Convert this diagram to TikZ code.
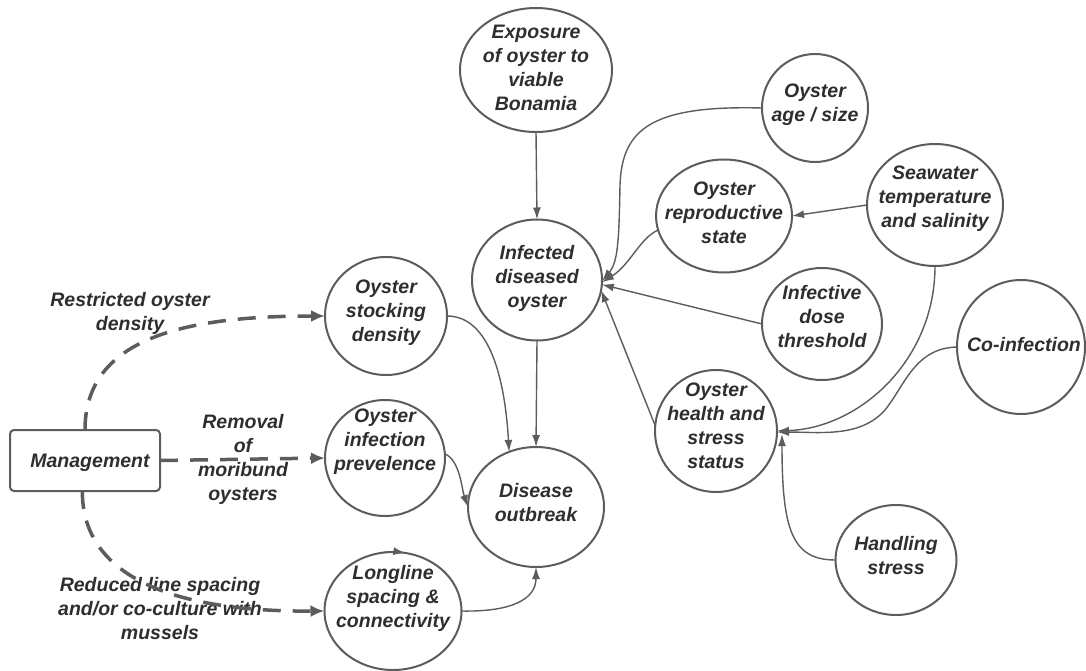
\documentclass[tikz,border=0pt]{standalone}
\usepackage{fontspec}
\setmainfont{Liberation Sans}
\usetikzlibrary{arrows.meta,shapes.geometric}
\definecolor{edgec}{HTML}{5C5C5C}
\definecolor{txtc}{HTML}{2E2E2E}
\begin{document}
\begin{tikzpicture}[x=1pt,y=-1pt,
  bub/.style={draw=edgec, line width=2pt, ellipse, inner sep=0pt, outer sep=0pt},
  lbl/.style={text=txtc, font=\fontsize{19.5}{24}\selectfont\bfseries\itshape, align=center, inner sep=0pt},
  conn/.style={draw=edgec, line width=1.4pt, -{Latex[length=12pt,width=8pt]}},
  mgarrow/.style={draw=edgec, line width=3.5pt, dash pattern=on 18pt off 12pt, -{Latex[length=14pt,width=12pt]}}]
\useasboundingbox (0,0) rectangle (1086,671);

% bubbles
\node[bub, minimum width=152pt, minimum height=124pt] (exp) at (536,70) {};
\node[bub, minimum width=130pt, minimum height=121pt] (inf) at (537,280) {};
\node[bub, minimum width=136pt, minimum height=120pt] (dis) at (536,507) {};
\node[bub, minimum width=122pt, minimum height=118pt] (stk) at (386,316) {};
\node[bub, minimum width=120pt, minimum height=116pt] (prev) at (385,458) {};
\node[bub, minimum width=137pt, minimum height=118pt] (ll) at (393,611) {};
\node[bub, minimum width=106pt, minimum height=108pt] (age) at (815,108) {};
\node[bub, minimum width=136pt, minimum height=113pt] (rep) at (724,216) {};
\node[bub, minimum width=136pt, minimum height=122pt] (sea) at (935,205) {};
\node[bub, minimum width=120pt, minimum height=112pt] (dose) at (822,324) {};
\node[bub, minimum width=128pt, minimum height=134pt] (coinf) at (1021,347) {};
\node[bub, minimum width=122pt, minimum height=122pt] (health) at (716,431) {};
\node[bub, minimum width=121pt, minimum height=110pt] (hand) at (896,560) {};
\node[draw=edgec, line width=2pt, rounded corners=4pt, rectangle, minimum width=150pt, minimum height=61pt, inner sep=0pt, outer sep=0pt] (mg) at (85,460.5) {};

% texts
\node[lbl] (expt) at (536,68) {Exposure\\of oyster to\\viable\\Bonamia};
\node[lbl] (inft) at (537,278) {Infected\\diseased\\oyster};
\node[lbl] (dist) at (536,503) {Disease\\outbreak};
\node[lbl] (stkt) at (386,313) {Oyster\\stocking\\density};
\node[lbl] (prevt) at (385,442) {Oyster\\infection\\prevelence};
\node[lbl] (llt) at (393,598) {Longline\\spacing \&\\connectivity};
\node[lbl] (aget) at (815,105) {Oyster\\age / size};
\node[lbl] (rept) at (724,213) {Oyster\\reproductive\\state};
\node[lbl] (seat) at (935,199) {Seawater\\temperature\\and salinity};
\node[lbl] (doset) at (822,317) {Infective\\dose\\threshold};
\node[lbl] (coinft) at (1024,345) {Co-infection};
\node[lbl] (healtht) at (716,426) {Oyster\\health and\\stress\\status};
\node[lbl] (handt) at (896,556) {Handling\\stress};
\node[lbl] (mgt) at (90,463) {Management};

% management labels
\node[lbl] (l1) at (130,313) {Restricted oyster\\density};
\node[lbl] (l2) at (243,459) {Removal\\of\\moribund\\oysters};
\node[lbl] (l3) at (160,609) {Reduced line spacing\\and/or co-culture with\\mussels};

% solid connectors
\draw[conn] (exp.south) -- (inf.north);
\draw[conn] (inf.south) -- (dis.north);
\draw[conn] (stk.east) .. controls (490,316) and (505,380) .. (dis.116);
\draw[conn] (prev.4) .. controls (460,460) and (462,490) .. (dis.west);
\draw[conn] (ll.east) .. controls (510,612) and (536,600) .. (dis.south);
\draw[conn] (age.west) .. controls (650,105) and (622,130) .. (620,185) .. controls (619,240) and (618,262) .. (inf.-1);
\draw[conn] (rep.192) .. controls (640,238) and (630,265) .. (inf.-2);
\draw[conn] (sea.west) -- (rep.east);
\draw[conn] (dose.west) -- (inf.-4);
\draw[conn] (health.175) -- (inf.-9);
\draw[conn] (sea.south) .. controls (935,360) and (860,428) .. (health.0);
\draw[conn] (coinf.west) .. controls (915,348) and (905,385) .. (885,410) .. controls (860,438) and (820,432) .. (health.-1);
\coordinate (hstip) at (782,434);
\draw[conn] (hand.west) .. controls (792,560) and (782,530) .. (hstip);
\draw[conn] (ll.100) to[bend left=8] (ll.78);

% management dashed connectors
\draw[mgarrow] (mg.north) .. controls (85,340) and (180,316) .. (stk.west);
\draw[mgarrow] (mg.east) -- (prev.west);
\draw[mgarrow] (mg.265) .. controls (82,570) and (160,612) .. (ll.west);
\end{tikzpicture}
\end{document}
